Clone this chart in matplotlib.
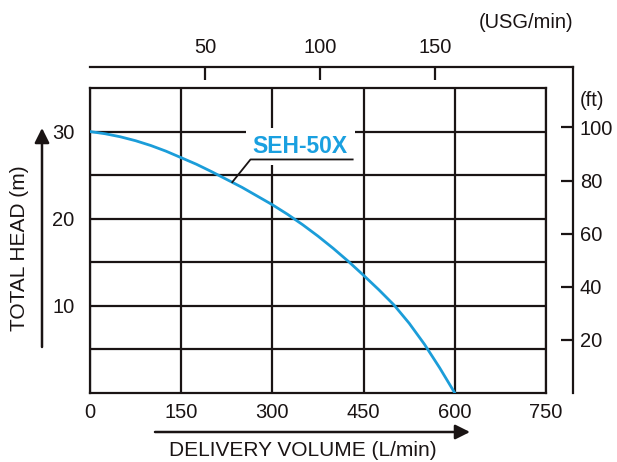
import matplotlib
matplotlib.use("Agg")
import matplotlib.pyplot as plt
import matplotlib.transforms as mtransforms

plt.rcParams['font.family'] = ['Liberation Sans', 'DejaVu Sans']

# pump curve
flow = [0, 25, 50, 75, 100, 125, 150, 175, 200, 225, 250, 275, 300,
        325, 350, 375, 400, 425, 450, 475, 500, 525, 550, 575, 600]
head = [30.0, 29.75, 29.4, 28.95, 28.4, 27.75, 27.0, 26.25, 25.4, 24.5, 23.6, 22.6, 21.6,
        20.5, 19.3, 18.0, 16.6, 15.1, 13.5, 11.85, 10.1, 8.0, 5.6, 2.9, 0.0]

flow_ticks = [0, 150, 300, 450, 600, 750]
head_ticks = [10, 20, 30]
head_grid = [5, 15, 25]
usg_ticks = [50, 100, 150]
ft_ticks = [20, 40, 60, 80, 100]

model = "SEH-50X"
L_PER_USG = 3.785
M_PER_FT = 0.3048

W, H = 617, 462
fig = plt.figure(figsize=(W / 100, H / 100), dpi=100)

# main plot box in pixels
left, right, top, bottom = 90, 546, 88, 393
ax = fig.add_axes([left / W, (H - bottom) / H, (right - left) / W, (bottom - top) / H])
ax.set_xlim(0, 750)
ax.set_ylim(0, 35)

ink = '#1a1414'
lw = 1.6
ax.set_xticks(flow_ticks)
ax.set_yticks(head_ticks)
ax.set_yticks(head_grid, minor=True)
ax.grid(which='both', color=ink, lw=lw)
ax.set_axisbelow(True)
ax.tick_params(which='both', length=0)
ax.tick_params(axis='x', pad=7, labelsize=14.5, colors=ink)
ax.tick_params(axis='y', pad=11, labelsize=14.5, colors=ink)
for s in ax.spines.values():
    s.set_linewidth(lw)
    s.set_color(ink)

blue = '#1b9dd9'
ax.plot(flow, head, color=blue, lw=2.0, zorder=3, solid_capstyle='round')

# model label with leader line
ax.text(346, 28.3, model, color='#1aa0e0', fontsize=16.5, fontweight='bold',
        ha='center', va='center', zorder=5,
        bbox=dict(boxstyle='square,pad=0.3', fc='white', ec='none'))
ax.plot([234, 264, 432], [24.2, 26.8, 26.8], color=ink, lw=1.3, zorder=6)

# secondary scales: USG/min on top, ft on right
x2r, y2t = 573, 67
ax2 = fig.add_axes([left / W, (H - bottom) / H, (x2r - left) / W, (bottom - y2t) / H])
ax2.patch.set_visible(False)
ax2.set_xlim(0, 750 * (x2r - left) / (right - left) / L_PER_USG)
ax2.set_ylim(0, 35 * (bottom - y2t) / (bottom - top) / M_PER_FT)
ax2.spines['left'].set_visible(False)
ax2.spines['bottom'].set_visible(False)
for s in ('top', 'right'):
    ax2.spines[s].set_linewidth(lw)
    ax2.spines[s].set_color(ink)
ax2.xaxis.tick_top()
ax2.yaxis.tick_right()
ax2.set_xticks(usg_ticks)
ax2.set_yticks(ft_ticks)
ax2.tick_params(direction='in', length=9, width=lw, labelsize=14.5, colors=ink)
ax2.tick_params(axis='x', pad=7)
ax2.tick_params(axis='y', pad=5)

ax2.text(1.0, 1.135, "(USG/min)", transform=ax2.transAxes, ha='right', va='center',
         fontsize=14.5, color=ink)
tr = mtransforms.blended_transform_factory(ax2.transAxes, ax2.transData)
ax2.text(1.015, 110, "(ft)", transform=tr, ha='left', va='center',
         fontsize=14.5, color=ink)

# axis titles with arrows
arrow = dict(arrowstyle='-|>', lw=1.8, color=ink, mutation_scale=22, shrinkA=0, shrinkB=0)
ax.annotate('', xy=(470, H - 432), xytext=(155, H - 432),
            xycoords='figure pixels', textcoords='figure pixels', arrowprops=arrow)
fig.text(303 / W, (H - 451) / H, "DELIVERY VOLUME (L/min)", ha='center', va='center',
         fontsize=15, color=ink)
ax.annotate('', xy=(42, H - 128), xytext=(42, H - 347),
            xycoords='figure pixels', textcoords='figure pixels', arrowprops=arrow)
fig.text(20 / W, (H - 248) / H, "TOTAL HEAD (m)", ha='center', va='center', rotation=90,
         fontsize=15, color=ink)

fig.savefig("out.png", dpi=100, facecolor='white')
